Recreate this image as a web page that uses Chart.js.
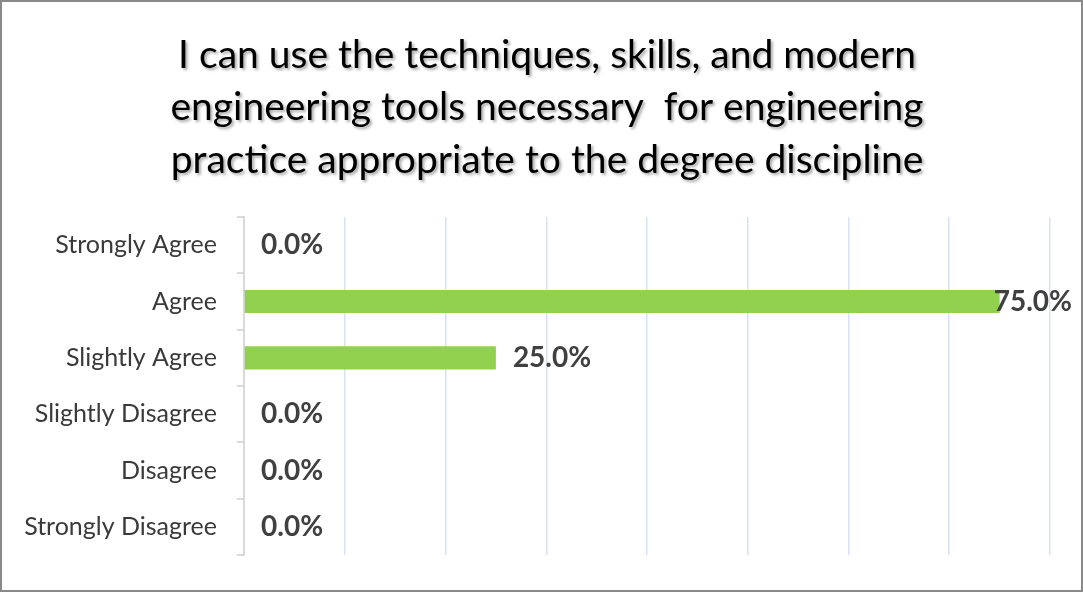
<!DOCTYPE html>
<html>
<head>
<meta charset="utf-8">
<script src="https://cdn.jsdelivr.net/npm/chart.js@4/dist/chart.umd.min.js"></script>
<style>
    html, body { margin: 0; padding: 0; background: #fff; }
    #frame {
        position: absolute; left: 0; top: 0;
        width: 1083px; height: 592px;
        box-sizing: border-box;
        border: 2px solid #8a8a8a;
        background: #fff;
    }
    canvas { display: block; }
</style>
</head>
<body>
<div id="frame"><canvas id="chart" width="1079" height="588"></canvas></div>
<script>
// DATI
const titleLines = [
    'I can use the techniques, skills, and modern',
    'engineering tools necessary  for engineering',
    'practice appropriate to the degree discipline'
];
const categories = ['Strongly Agree', 'Agree', 'Slightly Agree', 'Slightly Disagree', 'Disagree', 'Strongly Disagree'];
const shares = [0, 0.75, 0.25, 0, 0, 0];
const axisMax = 0.8;
const axisStep = 0.1;

const FONT = 'Lato, "Open Sans", sans-serif';

// TITOLO con ombra (stile Excel)
const titlePlugin = {
    id: 'shadowTitle',
    afterDraw(chart) {
        const ctx = chart.ctx;
        ctx.save();
        ctx.font = '39px ' + FONT;
        ctx.textAlign = 'center';
        ctx.textBaseline = 'middle';
        ctx.fillStyle = '#000';
        ctx.shadowColor = 'rgba(0,0,0,0.35)';
        ctx.shadowBlur = 3;
        ctx.shadowOffsetX = 2;
        ctx.shadowOffsetY = 2;
        const lineY = [53, 105, 158];
        titleLines.forEach((t, i) => ctx.fillText(t, 545, lineY[i]));
        ctx.restore();
    }
};

// ETICHETTE DATI
const valueLabels = {
    id: 'valueLabels',
    afterDatasetsDraw(chart) {
        const ctx = chart.ctx;
        const meta = chart.getDatasetMeta(0);
        ctx.save();
        ctx.font = 'bold 28px ' + FONT;
        ctx.fillStyle = '#404040';
        ctx.textBaseline = 'middle';
        ctx.textAlign = 'left';
        meta.data.forEach((bar, i) => {
            const txt = (shares[i] * 100).toFixed(1) + '%';
            const w = ctx.measureText(txt).width;
            let x = bar.x + 17;
            if (x + w > 1070) x = 1070 - w;
            ctx.fillText(txt, x, bar.y);
        });
        ctx.restore();
    }
};

const ctx = document.getElementById('chart').getContext('2d');
const chart = new Chart(ctx, {
    type: 'bar',
    data: {
        labels: categories,
        datasets: [{
            data: shares,
            backgroundColor: '#92d050',
            categoryPercentage: 1,
            barPercentage: 0.41
        }]
    },
    options: {
        indexAxis: 'y',
        responsive: false,
        animation: false,
        layout: { padding: { left: 0, right: 31, top: 215, bottom: 33 } },
        plugins: {
            legend: { display: false },
            title: { display: false },
            tooltip: { enabled: false }
        },
        scales: {
            x: {
                min: 0,
                max: axisMax,
                ticks: { display: false, stepSize: axisStep },
                grid: {
                    color: c => c.tick && c.tick.value === 0 ? 'rgba(0,0,0,0)' : '#d9e2f3',
                    lineWidth: 1.5,
                    drawTicks: false
                },
                border: { display: false },
                afterFit: s => { s.height = 0; }
            },
            y: {
                ticks: {
                    color: '#3a3a3a',
                    font: { family: FONT, size: 25 },
                    padding: 20
                },
                grid: {
                    drawOnChartArea: false,
                    tickLength: 7,
                    color: '#d9d9d9',
                    lineWidth: 2
                },
                border: { color: '#d9d9d9', width: 2 },
                afterFit: s => { s.width = 242; }
            }
        }
    },
    plugins: [titlePlugin, valueLabels]
});
</script>
</body>
</html>
